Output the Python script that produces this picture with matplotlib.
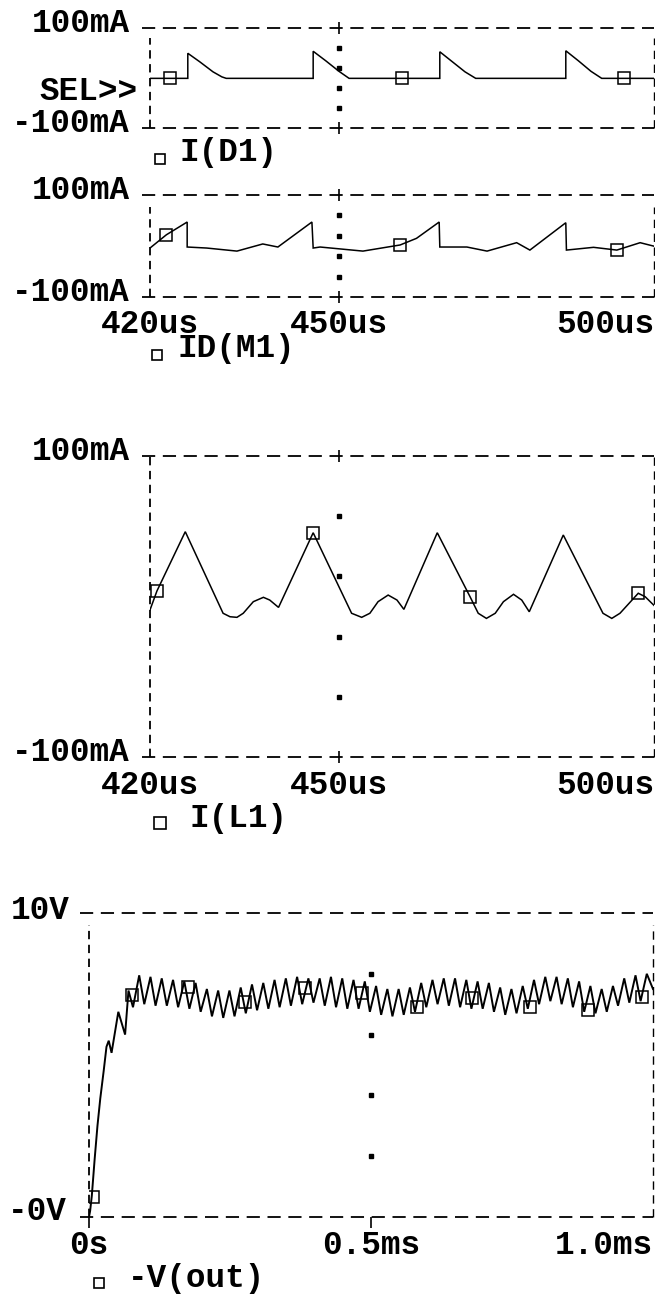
import matplotlib
matplotlib.use('Agg')
import matplotlib.pyplot as plt
import matplotlib.transforms as mtransforms
import numpy as np

plt.rcParams['font.family'] = ['Liberation Mono', 'DejaVu Sans Mono']
plt.rcParams['font.weight'] = 'bold'
plt.rcParams['font.size'] = 23.5
plt.rcParams['lines.scale_dashes'] = False

W, H = 655, 1295

# I(D1): diode current, time in us, current in mA
d1_t = [420.0, 426.0, 426.0, 427.9, 430.0, 431.4, 432.1, 445.9, 445.9, 447.9, 450.0,
        451.6, 466.0, 466.0, 468.0, 470.0, 471.7, 486.0, 486.0, 488.0, 490.0, 491.7, 500.2]
d1_i = [-1, -1, 49, 32, 12, 2, -1, -1, 53, 34, 13, -1, -1, 52, 32, 12, -1, -1, 54, 34, 13, -1, -1]
d1_mark_t = [423.2, 460.0, 495.2]
d1_mark_i = [-1, -1, -1]

# ID(M1): switch current
m1_t = [420.0, 422.6, 425.9, 425.9, 429.0, 433.8, 437.9, 440.3, 445.7, 445.9, 447.0,
        453.8, 459.7, 462.3, 465.9, 466.0, 470.3, 473.5, 478.2, 480.3, 486.0, 486.1,
        490.4, 494.1, 497.8, 500.2]
m1_i = [-4, 22, 47, -2, -4, -10, 4, -2, 47, -4, -2, -10, 2, 15, 47, -2, -2, -10, 6.5,
        -8, 45.6, -8, -2.6, -8, 6.5, -1]
m1_mark_t = [422.6, 459.7, 494.1]
m1_mark_i = [22, 2, -8]

# I(L1): inductor current
l1_t = [420.0, 421.1, 425.6, 431.6, 432.7, 433.8, 434.8, 436.4, 438.0, 439.0, 440.4,
        445.9, 452.0, 453.6, 454.9, 456.2, 457.8, 459.2, 460.3, 465.6, 470.8, 472.1,
        473.4, 474.8, 476.1, 477.7, 479.0, 480.2, 485.6, 491.9, 493.3, 494.6, 497.5,
        498.6, 500.2]
l1_i = [-2.3, 10.3, 49.7, -4.5, -6.8, -7.2, -4.5, 3.2, 6.1, 4.3, -0.6,
        49, -4.5, -7.2, -4.5, 3.2, 7.6, 4.3, -1.9, 49, 6.5, -4.5,
        -7.9, -4.5, 3.2, 8.1, 4.3, -3.5, 47.5, -4.5, -7.9, -4.5, 8.8,
        6.5, -0.1]
l1_mark_t = [421.1, 445.9, 470.8, 497.5]
l1_mark_i = [10.3, 49, 6.5, 8.8]

# -V(out): output voltage, time in ms, volts
vout_start_t = [0.000, 0.002, 0.005, 0.010, 0.015, 0.020, 0.026, 0.031, 0.035, 0.040,
                0.052, 0.064, 0.070]
vout_start_v = [0.0, 0.2, 0.7, 1.9, 3.0, 3.9, 4.8, 5.6, 5.8, 5.4, 6.75, 6.0, 7.45]
# ripple low / high for each 20us switching cycle after start-up
cycle_t0 = 0.078
cycle_period = 0.020
cycle_rise = 0.011
vout_low = [6.9, 7.0, 6.95, 6.95, 6.9, 6.85, 6.75, 6.6, 6.55, 6.6, 6.7, 6.8, 6.85, 6.9,
            6.95, 7.0, 7.05, 6.95, 6.9, 6.85, 6.85, 6.75, 6.65, 6.6, 6.65, 6.75, 6.9, 7.0,
            6.95, 6.9, 6.85, 6.85, 6.75, 6.65, 6.7, 6.85, 7.0, 7.1, 7.0, 6.9, 6.75, 6.7,
            6.75, 6.95, 7.05, 7.1]
vout_high = [7.95, 7.9, 7.85, 7.8, 7.75, 7.7, 7.5, 7.45, 7.45, 7.55, 7.65, 7.7, 7.8, 7.85,
             7.9, 7.85, 7.85, 7.9, 7.85, 7.8, 7.75, 7.6, 7.5, 7.5, 7.55, 7.7, 7.8, 7.85,
             7.85, 7.8, 7.75, 7.7, 7.55, 7.5, 7.6, 7.8, 7.9, 7.9, 7.85, 7.75, 7.6, 7.5,
             7.6, 7.85, 7.95, 8.0]
vout_end_t = 1.0
vout_end_v = 7.5
vout_mark_t = [0.007, 0.076, 0.176, 0.277, 0.383, 0.484, 0.582, 0.679, 0.782, 0.885, 0.98]
vout_mark_v = [0.66, 7.3, 7.57, 7.07, 7.53, 7.37, 6.9, 7.2, 6.9, 6.8, 7.24]

us_ticks = [420, 450, 500]
us_labels = ['420us', '450us', '500us']
ms_ticks = [0, 0.5, 1.0]
ms_labels = ['0s', '0.5ms', '1.0ms']
grid_mA = [-60, -20, 20, 60]
grid_V = [2, 4, 6, 8]

fig = plt.figure(figsize=(W / 100, H / 100), dpi=100)


def panel(x0, y0, x1, y1, xlim, ylim, top_gap, tick_x, tick_dir):
    ax = fig.add_axes([x0 / W, 1 - y1 / H, (x1 - x0) / W, (y1 - y0) / H])
    ax.set_xlim(*xlim)
    ax.set_ylim(*ylim)
    for s in ax.spines.values():
        s.set_visible(False)
    ax.set_yticks([])
    ax.set_xticks(tick_x)
    ax.tick_params(axis='x', direction=tick_dir, length=8, width=1.2,
                   labelbottom=False, top=(tick_dir == 'inout'))
    hd = (0, (9.5, 5.5))
    vd = (0, (6, 4))
    ax.axhline(ylim[1], -0.016, 1, color='k', lw=1.3, ls=hd, clip_on=False)
    ax.axhline(ylim[0], -0.016, 1, color='k', lw=1.3, ls=hd, clip_on=False)
    ax.axvline(xlim[0], 0, 1 - top_gap, color='k', lw=1.3, ls=vd, clip_on=False)
    ax.axvline(xlim[1], 0, 1 - top_gap, color='k', lw=1.0, ls=vd, clip_on=False)
    return ax


def ylab(ax, text, y, dx=-20, dy=-4):
    ax.annotate(text, xy=(0, y), xycoords=('axes fraction', 'data'), xytext=(dx, dy),
                textcoords='offset pixels', ha='right', va='baseline')


def xlabs(ax, ticks, labels, dy=-37):
    for i, (t, lab) in enumerate(zip(ticks, labels)):
        ha = 'right' if i == len(ticks) - 1 else 'center'
        ax.annotate(lab, xy=(t, 0), xycoords=('data', 'axes fraction'), xytext=(0, dy),
                    textcoords='offset pixels', ha=ha, va='baseline')


def legend(ax, text, sq_dx, sq_dy, tx_dx, tx_dy, size=7):
    tr = mtransforms.offset_copy(ax.transAxes, fig=fig, x=sq_dx, y=sq_dy, units='dots')
    ax.plot([0], [0], marker='s', ms=size, mfc='none', mec='k', mew=1.2,
            transform=tr, clip_on=False)
    ax.annotate(text, xy=(0, 0), xycoords='axes fraction', xytext=(tx_dx, tx_dy),
                textcoords='offset pixels', ha='left', va='baseline')


def trace(ax, t, y, mt, my, lw=1.1):
    ax.plot(t, y, color='k', lw=lw, solid_joinstyle='miter')
    ax.plot(mt, my, ls='none', marker='s', ms=8, mfc='none', mec='k', mew=1.1, zorder=5)


def dots(ax, x, levels):
    ax.plot([x] * len(levels), levels, ls='none', marker='s', ms=2.2, color='k')


# I(D1)
ax1 = panel(150, 27.7, 654, 128, (420, 500), (-100, 100), 0.10, [450], 'inout')
trace(ax1, d1_t, d1_i, d1_mark_t, d1_mark_i)
dots(ax1, 450, grid_mA)
ylab(ax1, '100mA', 100)
ylab(ax1, '-100mA', -100)
ax1.annotate('SEL>>', xy=(0, 0), xycoords='axes fraction', xytext=(-12, 28),
             textcoords='offset pixels', ha='right', va='baseline')
legend(ax1, 'I(D1)', 10, -31, 30, -33)

# ID(M1)
ax2 = panel(150, 195, 654, 297, (420, 500), (-100, 100), 0.12, [450], 'inout')
trace(ax2, m1_t, m1_i, m1_mark_t, m1_mark_i)
dots(ax2, 450, grid_mA)
ylab(ax2, '100mA', 100)
ylab(ax2, '-100mA', -100)
xlabs(ax2, us_ticks, us_labels, dy=-36)
legend(ax2, 'ID(M1)', 7, -58, 28, -60)

# I(L1)
ax3 = panel(150, 456, 654, 757, (420, 500), (-100, 100), 0.0, [450], 'inout')
trace(ax3, l1_t, l1_i, l1_mark_t, l1_mark_i)
dots(ax3, 450, grid_mA)
ylab(ax3, '100mA', 100)
ylab(ax3, '-100mA', -100)
xlabs(ax3, us_ticks, us_labels, dy=-37)
legend(ax3, 'I(L1)', 9.5, -66, 40, -70, size=8)

# -V(out)
n = len(vout_low)
cycle_t = cycle_t0 + cycle_period * np.arange(n)
ss_t = np.column_stack([cycle_t, cycle_t + cycle_rise]).ravel()
ss_v = np.column_stack([vout_low, vout_high]).ravel()
vt = np.concatenate([vout_start_t, ss_t, [vout_end_t]])
vv = np.concatenate([vout_start_v, ss_v, [vout_end_v]])

ax4 = panel(89, 913, 653, 1217, (0, 1.0), (0, 10), 0.04, [0, 0.5], 'out')
trace(ax4, vt, vv, vout_mark_t, vout_mark_v, lw=1.4)
dots(ax4, 0.5, grid_V)
ylab(ax4, '10V', 10, dx=-19, dy=-6)
ylab(ax4, '-0V', 0, dx=-22, dy=-3)
xlabs(ax4, ms_ticks, ms_labels, dy=-37)
legend(ax4, '-V(out)', 10, -66, 39, -70)

fig.savefig('out.png', dpi=100)
